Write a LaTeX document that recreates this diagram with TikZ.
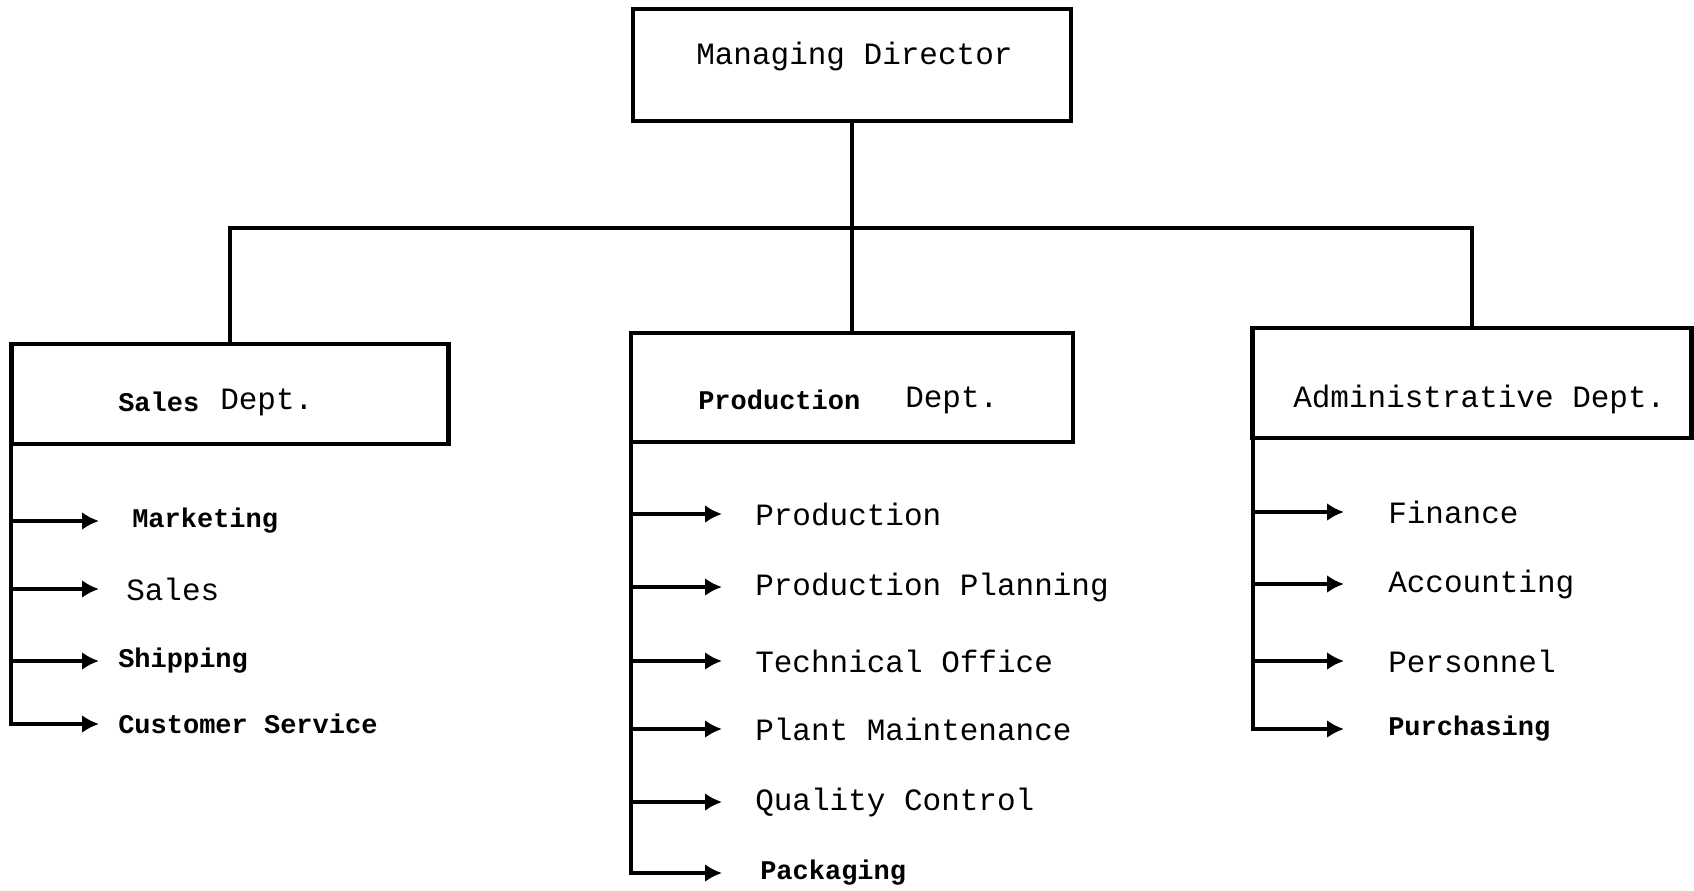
\documentclass[tikz,border=0pt]{standalone}
\usepackage{fontspec}
\setmonofont{Liberation Mono}
\usetikzlibrary{arrows.meta}
\begin{document}
\begin{tikzpicture}[x=1pt,y=-1pt,
  line width=4.5pt,
  box/.style={draw, line width=4.5pt, inner sep=0pt},
  reg/.style={anchor=west, inner sep=0pt, font=\ttfamily\fontsize{31}{31}\selectfont},
  bld/.style={anchor=west, inner sep=0pt, font=\ttfamily\bfseries\fontsize{27}{27}\selectfont},
  arr/.style={-{Latex[length=17pt,width=18pt]}, line width=4pt}]
\useasboundingbox (0,0) rectangle (1694,891);
% boxes
\node[box, minimum width=438pt, minimum height=112pt] (md) at (852,65) {};
\node[box, minimum width=437pt, minimum height=100pt] (sales) at (230,394) {};
\node[box, minimum width=442pt, minimum height=109pt] (prod) at (852,387.5) {};
\node[box, minimum width=439pt, minimum height=110pt] (admin) at (1472,383) {};
% box texts
\node[reg] (mdt) at (694,56) {Managing Director};
\node[bld] (salest) at (116,402) {Sales};
\node[reg] (salest2) at (218,402) {Dept.};
\node[bld] (prodt) at (696,400) {Production};
\node[reg] (prodt2) at (903,400) {Dept.};
\node[reg] (admint) at (1291,399) {Administrative Dept.};
% hierarchy
\coordinate (bus) at (852,228);
\draw (md.south) -- (prod.north);
\draw (sales.north) |- (bus) -| (admin.north);
% Sales items
\node[bld] (s1) at (130,521) {Marketing};
\node[reg] (s2) at (124,589) {Sales};
\node[bld] (s3) at (116,661) {Shipping};
\node[bld] (s4) at (116,724) {Customer Service};
\coordinate (stip) at (99,0);
\draw[arr] ([xshift=2pt]sales.south west) |- (stip |- s4.west);
\draw[arr] ([xshift=2pt]sales.south west |- s1.west) -- (stip |- s1.west);
\draw[arr] ([xshift=2pt]sales.south west |- s2.west) -- (stip |- s2.west);
\draw[arr] ([xshift=2pt]sales.south west |- s3.west) -- (stip |- s3.west);
% Production items
\node[reg] (p1) at (753,514) {Production};
\node[reg] (p2) at (753,587) {Production Planning};
\node[reg] (p3) at (753,661) {Technical Office};
\node[reg] (p4) at (753,729) {Plant Maintenance};
\node[reg] (p5) at (753,802) {Quality Control};
\node[bld] (p6) at (758,873) {Packaging};
\coordinate (ptip) at (722,0);
\draw[arr] ([xshift=2pt]prod.south west) |- (ptip |- p6.west);
\foreach \i in {p1,p2,p3,p4,p5}
  \draw[arr] ([xshift=2pt]prod.south west |- \i.west) -- (ptip |- \i.west);
% Administrative items
\node[reg] (a1) at (1386,512) {Finance};
\node[reg] (a2) at (1386,584) {Accounting};
\node[reg] (a3) at (1386,661) {Personnel};
\node[bld] (a4) at (1386,729) {Purchasing};
\coordinate (atip) at (1344,0);
\draw[arr] ([xshift=3pt]admin.south west) |- (atip |- a4.west);
\draw[arr] ([xshift=3pt]admin.south west |- a1.west) -- (atip |- a1.west);
\draw[arr] ([xshift=3pt]admin.south west |- a2.west) -- (atip |- a2.west);
\draw[arr] ([xshift=3pt]admin.south west |- a3.west) -- (atip |- a3.west);
\end{tikzpicture}
\end{document}
